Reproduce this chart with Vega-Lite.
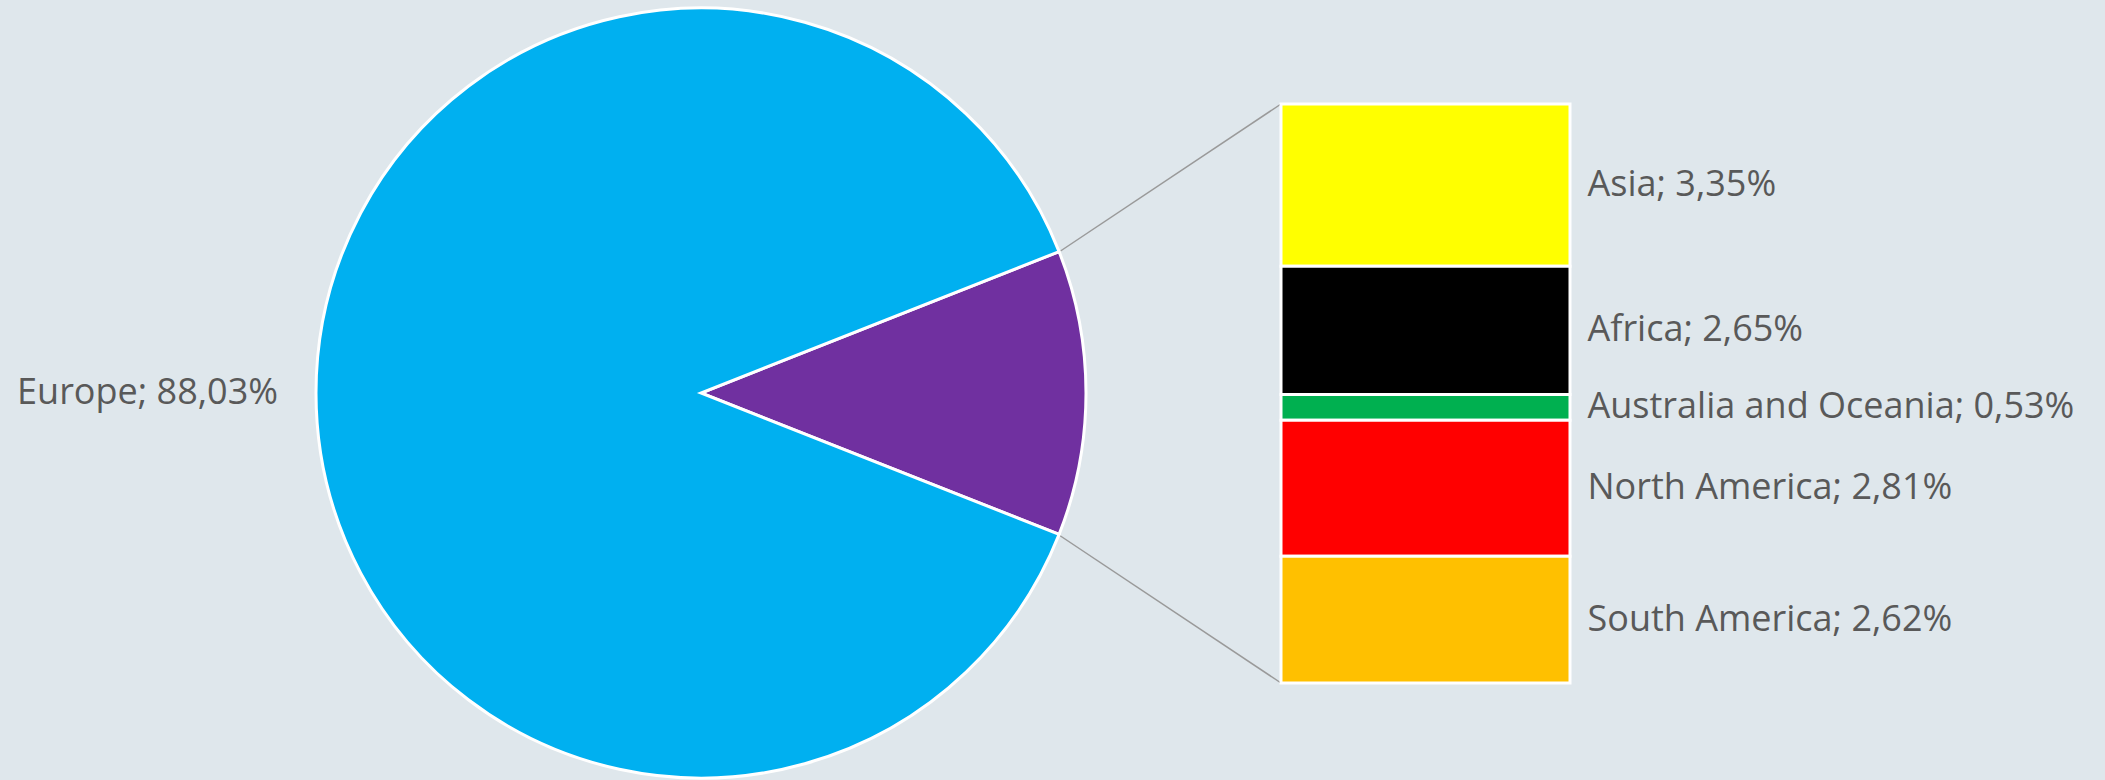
{
  "$schema": "https://vega.github.io/schema/vega-lite/v6.json",
  "width": 2105,
  "height": 780,
  "padding": 0,
  "autosize": {"type": "fit", "contains": "padding"},
  "background": "#DFE7EC",
  "config": {"view": {"stroke": null}},
  "datasets": {
    "pie": [
      {"region": "Other", "value": 11.97, "order": 1},
      {"region": "Europe", "value": 88.03, "order": 2}
    ],
    "other": [
      {"group": "Other", "region": "Asia", "value": 3.35, "order": 1},
      {"group": "Other", "region": "Africa", "value": 2.65, "order": 2},
      {"group": "Other", "region": "Australia and Oceania", "value": 0.53, "order": 3},
      {"group": "Other", "region": "North America", "value": 2.81, "order": 4},
      {"group": "Other", "region": "South America", "value": 2.62, "order": 5}
    ]
  },
  "layer": [
    {
      "data": {"values": [{"edge": "top"}]},
      "mark": {"type": "rule", "color": "#9A9A9A", "strokeWidth": 1.5},
      "encoding": {
        "x": {"value": 1059},
        "y": {"value": 252},
        "x2": {"value": 1281},
        "y2": {"value": 104}
      }
    },
    {
      "data": {"values": [{"edge": "bottom"}]},
      "mark": {"type": "rule", "color": "#9A9A9A", "strokeWidth": 1.5},
      "encoding": {
        "x": {"value": 1059},
        "y": {"value": 535},
        "x2": {"value": 1281},
        "y2": {"value": 683}
      }
    },
    {
      "data": {"name": "pie"},
      "mark": {"type": "arc", "x": 701, "y": 393, "outerRadius": 385, "stroke": "white", "strokeWidth": 3},
      "encoding": {
        "theta": {"field": "value", "type": "quantitative", "stack": true, "scale": {"domain": [0, 100], "range": [1.1947, 7.4779]}},
        "order": {"field": "order", "type": "quantitative"},
        "color": {
          "field": "region", "type": "nominal", "legend": null,
          "scale": {
            "domain": ["Europe", "Other", "Asia", "Africa", "Australia and Oceania", "North America", "South America"],
            "range": ["#00B0F0", "#7030A0", "#FFFF00", "#000000", "#00B050", "#FF0000", "#FFC000"]
          }
        }
      }
    },
    {
      "data": {"name": "pie"},
      "transform": [
        {"calculate": "datum.region === 'Other' ? '' : datum.region + '; ' + replace(format(datum.value, '.2f'), '.', ',') + '%'", "as": "label"}
      ],
      "mark": {"type": "text", "x": 701, "y": 393, "radius": 423, "align": "right", "baseline": "middle", "font": "Open Sans", "fontSize": 36, "color": "#595959"},
      "encoding": {
        "theta": {"field": "value", "type": "quantitative", "stack": true, "scale": {"domain": [0, 100], "range": [1.1947, 7.4779]}},
        "order": {"field": "order", "type": "quantitative"},
        "text": {"field": "label", "type": "nominal"}
      }
    },
    {
      "data": {"name": "other"},
      "transform": [
        {"stack": "value", "groupby": ["group"], "sort": [{"field": "order", "order": "descending"}], "as": ["v0", "v1"]}
      ],
      "mark": {"type": "bar", "stroke": "white", "strokeWidth": 3},
      "encoding": {
        "x": {"field": "group", "type": "nominal", "axis": null, "scale": {"range": [1281, 1570], "paddingInner": 0, "paddingOuter": 0}},
        "y": {"field": "v1", "type": "quantitative", "axis": null, "scale": {"domain": [0, 11.96], "range": [683, 104], "nice": false, "zero": false}},
        "y2": {"field": "v0"},
        "color": {"field": "region", "type": "nominal", "legend": null}
      }
    },
    {
      "data": {"name": "other"},
      "transform": [
        {"stack": "value", "groupby": ["group"], "sort": [{"field": "order", "order": "descending"}], "as": ["v0", "v1"]},
        {"calculate": "(datum.v0 + datum.v1) / 2", "as": "mid"},
        {"calculate": "datum.region + '; ' + replace(format(datum.value, '.2f'), '.', ',') + '%'", "as": "label"}
      ],
      "mark": {"type": "text", "align": "left", "baseline": "middle", "dx": 162, "font": "Open Sans", "fontSize": 36, "color": "#595959"},
      "encoding": {
        "x": {"field": "group", "type": "nominal", "axis": null},
        "y": {"field": "mid", "type": "quantitative", "axis": null},
        "text": {"field": "label", "type": "nominal"}
      }
    }
  ]
}
